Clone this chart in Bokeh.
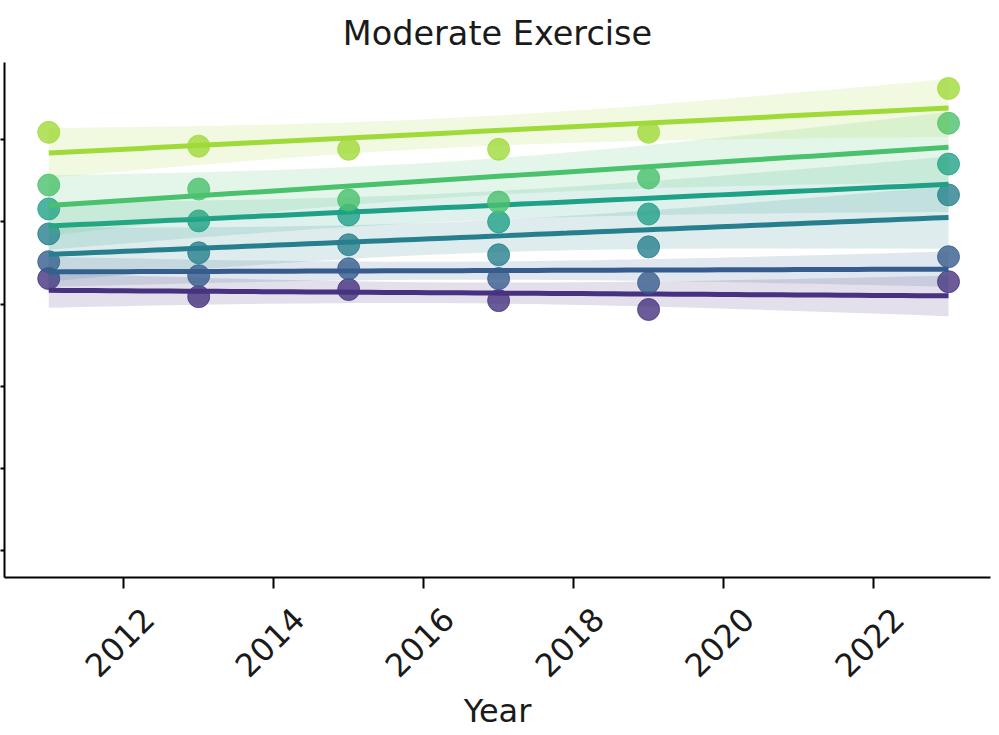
import numpy as np
from bokeh.plotting import figure
from bokeh.models import FixedTicker, Range1d, LinearAxis, CustomJSTickFormatter
from bokeh.embed import file_html
from bokeh.resources import INLINE

# ---- data ----
years = [2011, 2013, 2015, 2017, 2019, 2023]
group_1 = [26.55, 25.45, 25.88, 25.21, 24.67, 26.36]
group_2 = [27.58, 26.73, 27.15, 26.55, 26.30, 27.88]
group_3 = [29.27, 28.12, 28.61, 28.00, 28.48, 31.64]
group_4 = [30.79, 30.06, 30.42, 30.00, 30.48, 33.52]
group_5 = [32.24, 32.00, 31.33, 31.21, 32.67, 36.00]
group_6 = [35.45, 34.61, 34.42, 34.42, 35.45, 38.12]
series = [group_1, group_2, group_3, group_4, group_5, group_6]
colors = ["#46327e", "#365c8d", "#277f8e", "#1fa187", "#4ac16d", "#a0da39"]
x_ticks = [2012, 2014, 2016, 2018, 2020, 2022]
y_ticks = [10, 15, 20, 25, 30, 35]

FONT = "DejaVu Sans"
TXT = "#1a1a1a"
X0, X1 = 2010.41, 2023.56
SHIFT = 0.33  # moves the rotated labels so they are centred under the ticks

p = figure(width=993, height=733, output_backend="svg", toolbar_location=None,
           x_range=Range1d(X0, X1), y_range=Range1d(8.36, 39.7),
           min_border_left=0, min_border_right=3, min_border_top=62,
           min_border_bottom=156)
p.title.text = "Moderate Exercise"
p.title.align = "center"
p.title.text_font = FONT
p.title.text_font_size = "33.5px"
p.title.text_font_style = "normal"
p.title.text_color = TXT
p.title.standoff = 20

p.outline_line_color = None
p.xgrid.visible = False
p.ygrid.visible = False

xa = p.xaxis[0]
xa.ticker = FixedTicker(ticks=x_ticks)
xa.formatter = CustomJSTickFormatter(code="return ''")
xa.axis_line_width = 2
xa.major_tick_line_width = 2
xa.major_tick_out = 11
xa.major_tick_in = 0
xa.minor_tick_line_color = None
xa.major_label_standoff = 0
xa.major_label_text_font_size = "1px"

# second (label-only) axis carrying the rotated year labels
p.extra_x_ranges = {"labels": Range1d(X0 - SHIFT, X1 - SHIFT)}
lab = LinearAxis(x_range_name="labels", ticker=FixedTicker(ticks=x_ticks),
                 axis_line_color=None, major_tick_line_color=None,
                 minor_tick_line_color=None, major_label_orientation=np.pi / 4,
                 major_label_text_font=FONT, major_label_text_font_size="32px",
                 major_label_text_color=TXT, major_label_standoff=19,
                 axis_label="Year", axis_label_text_font=FONT,
                 axis_label_text_font_size="32px", axis_label_text_font_style="normal",
                 axis_label_text_color=TXT, axis_label_standoff=2)
p.add_layout(lab, "below")

ya = p.yaxis[0]
ya.ticker = FixedTicker(ticks=y_ticks)
ya.formatter = CustomJSTickFormatter(code="return ''")
ya.major_label_standoff = 0
ya.major_label_text_font_size = "1px"
ya.axis_line_width = 2
ya.major_tick_line_width = 2
ya.major_tick_out = 4
ya.major_tick_in = 0
ya.minor_tick_line_color = None

x = np.array(years, dtype=float)
grid = np.linspace(x.min(), x.max(), 60)
for vals, col in zip(series, colors):
    y = np.array(vals, dtype=float)
    p.scatter(x, y, size=22, fill_color=col, line_color=col, fill_alpha=0.8, line_alpha=0.8)
    slope, icpt = np.polyfit(x, y, 1)
    fit = icpt + slope * grid
    resid = y - (icpt + slope * x)
    s = np.sqrt(np.sum(resid ** 2) / (len(x) - 2))
    se = s * np.sqrt(1 / len(x) + (grid - x.mean()) ** 2 / np.sum((x - x.mean()) ** 2))
    p.varea(x=grid, y1=fit - 1.96 * se, y2=fit + 1.96 * se, fill_color=col, fill_alpha=0.15)
    p.line(grid, fit, line_color=col, line_width=5)

open("out.html", "w").write(file_html(p, INLINE))
